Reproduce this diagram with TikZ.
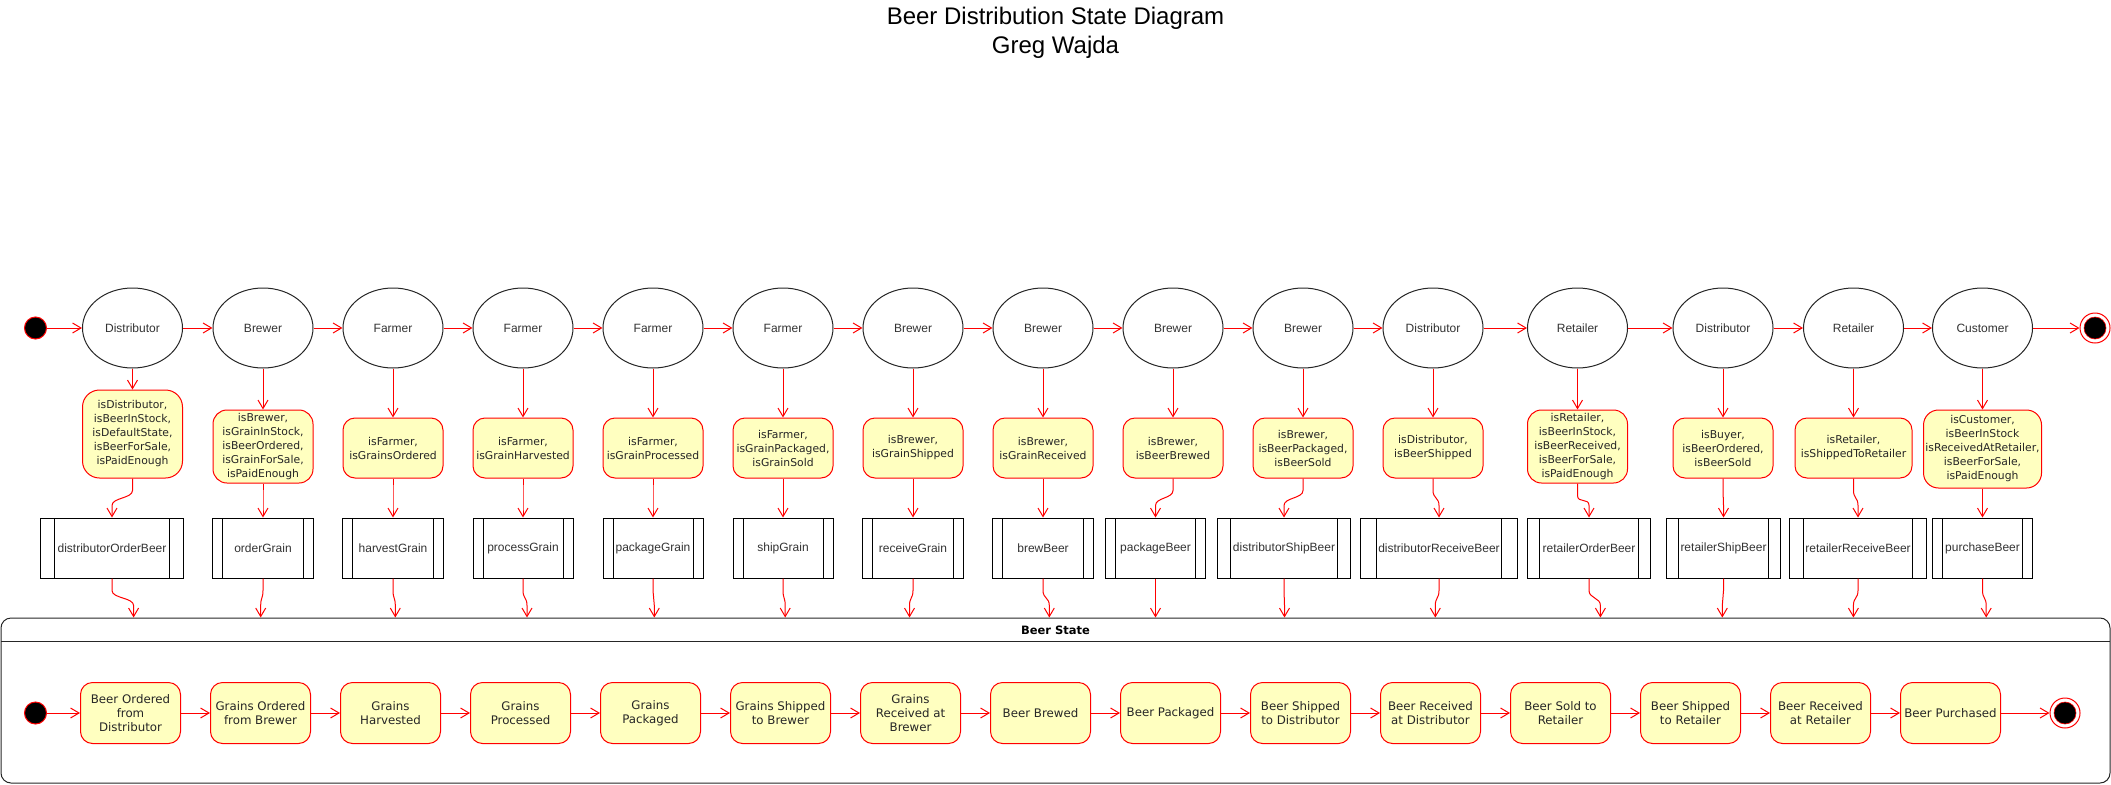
\documentclass[tikz,border=0pt]{standalone}
\usepackage{fontspec}
\setmainfont{Liberation Sans}
\newfontfamily\dvs{DejaVu Sans}
\usetikzlibrary{arrows.meta,shapes.geometric,calc}
\definecolor{condfill}{HTML}{FFFFC0}
\newcommand\sjog[2]{\draw[flow] (#1) -- ++(0,12) .. controls +(0,8) and +(0,-8) .. ($(#2)+(0,-12)$) -- (#2);}
\begin{document}
\begin{tikzpicture}[x=1pt,y=-1pt,
  flow/.style={draw=red, line width=1pt, -{Straight Barb[length=8.5pt,width=10pt]}},
  actor/.style={ellipse, draw=black!85, line width=1pt, fill=white, minimum width=100pt, minimum height=80pt, inner sep=0pt, font=\fontsize{12}{14}\selectfont, text=black!80},
  cond/.style={rectangle, rounded corners=12pt, draw=red, line width=1pt, fill=condfill, minimum width=100pt, minimum height=60pt, inner sep=0pt, align=center, font=\dvs\fontsize{10.8}{14}\selectfont, text=black!85},
  proc/.style={rectangle, draw=black, line width=1pt, minimum height=60pt, inner sep=0pt, font=\fontsize{12}{14}\selectfont, text=black!80,
    path picture={\draw[black, line width=1pt]
      ($(path picture bounding box.north west)!0.1!(path picture bounding box.north east)$) -- ($(path picture bounding box.south west)!0.1!(path picture bounding box.south east)$)
      ($(path picture bounding box.north east)!0.1!(path picture bounding box.north west)$) -- ($(path picture bounding box.south east)!0.1!(path picture bounding box.south west)$);}},
  stbox/.style={cond, minimum height=61pt, font=\dvs\fontsize{11.8}{14}\selectfont},
  startdot/.style={circle, fill=black, draw=red, line width=1pt, minimum size=22pt, inner sep=0pt},
  enddot/.style={circle, draw=red, line width=1pt, fill=white, minimum size=30pt, inner sep=0pt},
  titletext/.style={font=\fontsize{24}{29}\selectfont, text=black, inner sep=0pt}
]
\useasboundingbox (0,0) rectangle (2111,784);

% title
\node[titletext] (title) at (1055.5,18) {Beer Distribution State Diagram};
\node[titletext] (author) at (1055.5,47) {Greg Wajda};

% container
\node[draw=black!85, line width=1pt, rounded corners=10pt, minimum width=2109pt, minimum height=165pt, inner sep=0pt] (bs) at (1055.5,700.5) {};
\draw[black!85, line width=1pt] (1,641) -- (2110,641);
\node[font=\dvs\bfseries\fontsize{11.5}{14}\selectfont, inner sep=0pt] (bslabel) at (1055.5,630) {Beer State};

% top row
\node[startdot] (s1) at (35.5,328) {};
\node[actor] (e1) at (132.5,328) {Distributor};
\node[actor] (e2) at (263,328) {Brewer};
\node[actor] (e3) at (393,328) {Farmer};
\node[actor] (e4) at (523,328) {Farmer};
\node[actor] (e5) at (653,328) {Farmer};
\node[actor] (e6) at (783,328) {Farmer};
\node[actor] (e7) at (913,328) {Brewer};
\node[actor] (e8) at (1043,328) {Brewer};
\node[actor] (e9) at (1173,328) {Brewer};
\node[actor] (e10) at (1303,328) {Brewer};
\node[actor] (e11) at (1433,328) {Distributor};
\node[actor] (e12) at (1577.5,328) {Retailer};
\node[actor] (e13) at (1723,328) {Distributor};
\node[actor] (e14) at (1853.5,328) {Retailer};
\node[actor] (e15) at (1982.5,328) {Customer};
\node[enddot] (f1) at (2095,328) {};
\fill[black, draw=red, line width=0.6pt] (f1.center) circle (11pt);

% conditions
\node[cond, minimum height=88pt, rounded corners=17pt] (c1) at (132.5,434) {isDistributor,\\isBeerInStock,\\isDefaultState,\\isBeerForSale,\\isPaidEnough};
\node[cond, minimum height=73pt, rounded corners=14pt] (c2) at (263,446.5) {isBrewer,\\isGrainInStock,\\isBeerOrdered,\\isGrainForSale,\\isPaidEnough};
\node[cond] (c3) at (393,448) {isFarmer,\\isGrainsOrdered};
\node[cond] (c4) at (523,448) {isFarmer,\\isGrainHarvested};
\node[cond] (c5) at (653,448) {isFarmer,\\isGrainProcessed};
\node[cond] (c6) at (783,448) {isFarmer,\\isGrainPackaged,\\isGrainSold};
\node[cond] (c7) at (913,448) {isBrewer,\\isGrainShipped};
\node[cond] (c8) at (1043,448) {isBrewer,\\isGrainReceived};
\node[cond] (c9) at (1173,448) {isBrewer,\\isBeerBrewed};
\node[cond] (c10) at (1303,448) {isBrewer,\\isBeerPackaged,\\isBeerSold};
\node[cond] (c11) at (1433,448) {isDistributor,\\isBeerShipped};
\node[cond, minimum height=73pt, rounded corners=14pt] (c12) at (1577.5,446.5) {isRetailer,\\isBeerInStock,\\isBeerReceived,\\isBeerForSale,\\isPaidEnough};
\node[cond] (c13) at (1723,448) {isBuyer,\\isBeerOrdered,\\isBeerSold};
\node[cond, minimum width=117pt] (c14) at (1853.5,448) {isRetailer,\\isShippedToRetailer};
\node[cond, minimum width=118pt, minimum height=78pt, rounded corners=15pt] (c15) at (1982.5,449) {isCustomer,\\isBeerInStock\\isReceivedAtRetailer,\\isBeerForSale,\\isPaidEnough};

% processes
\node[proc, minimum width=143pt] (p1) at (112,548) {distributorOrderBeer};
\node[proc, minimum width=100.6pt] (p2) at (263,548) {orderGrain};
\node[proc, minimum width=100.6pt] (p3) at (393,548) {harvestGrain};
\node[proc, minimum width=100pt] (p4) at (523,548) {processGrain};
\node[proc, minimum width=100pt] (p5) at (653,548) {packageGrain};
\node[proc, minimum width=100pt] (p6) at (783,548) {shipGrain};
\node[proc, minimum width=100.6pt] (p7) at (913,548) {receiveGrain};
\node[proc, minimum width=101pt] (p8) at (1043,548) {brewBeer};
\node[proc, minimum width=100pt] (p9) at (1155.5,548) {packageBeer};
\node[proc, minimum width=133pt] (p10) at (1284,548) {distributorShipBeer};
\node[proc, minimum width=157pt] (p11) at (1439,548) {distributorReceiveBeer};
\node[proc, minimum width=123pt] (p12) at (1589,548) {retailerOrderBeer};
\node[proc, minimum width=113.5pt] (p13) at (1723.5,548) {retailerShipBeer};
\node[proc, minimum width=137pt] (p14) at (1858,548) {retailerReceiveBeer};
\node[proc, minimum width=100pt] (p15) at (1982.5,548) {purchaseBeer};

% arrow targets on the Beer State container
\coordinate (t1) at (133.6,617.5);
\coordinate (t2) at (260.7,617.5);
\coordinate (t3) at (395.3,617.5);
\coordinate (t4) at (527,617.5);
\coordinate (t5) at (654.3,617.5);
\coordinate (t6) at (785.2,617.5);
\coordinate (t7) at (909.5,617.5);
\coordinate (t8) at (1049.3,617.5);
\coordinate (t9) at (1155.5,617.5);
\coordinate (t10) at (1284.5,617.5);
\coordinate (t11) at (1435.3,617.5);
\coordinate (t12) at (1600.4,617.5);
\coordinate (t13) at (1722.3,617.5);
\coordinate (t14) at (1853.4,617.5);
\coordinate (t15) at (1986.2,617.5);

% bottom row
\node[startdot] (s2) at (35.5,713) {};
\node[stbox] (b1) at (130.5,713) {Beer Ordered\\from\\Distributor};
\node[stbox] (b2) at (260.5,713) {Grains Ordered\\from Brewer};
\node[stbox] (b3) at (390.5,713) {Grains\\Harvested};
\node[stbox] (b4) at (520.5,713) {Grains\\Processed};
\node[stbox] (b5) at (650.5,713) {Grains\\Packaged};
\node[stbox] (b6) at (780.5,713) {Grains Shipped\\to Brewer};
\node[stbox] (b7) at (910.5,713) {Grains\\Received at\\Brewer};
\node[stbox] (b8) at (1040.5,713) {Beer Brewed};
\node[stbox] (b9) at (1170.5,713) {Beer Packaged};
\node[stbox] (b10) at (1300.5,713) {Beer Shipped\\to Distributor};
\node[stbox] (b11) at (1430.5,713) {Beer Received\\at Distributor};
\node[stbox] (b12) at (1560.5,713) {Beer Sold to\\Retailer};
\node[stbox] (b13) at (1690.5,713) {Beer Shipped\\to Retailer};
\node[stbox] (b14) at (1820.5,713) {Beer Received\\at Retailer};
\node[stbox] (b15) at (1950.5,713) {Beer Purchased};
\node[enddot] (f2) at (2065,713) {};
\fill[black, draw=red, line width=0.6pt] (f2.center) circle (11pt);

% connectors
\draw[flow] (s1) -- (e1);
\draw[flow] (e15) -- (f1);
\draw[flow] (s2) -- (b1);
\draw[flow] (b15) -- (f2);
\foreach \i in {1,...,14}{
  \pgfmathtruncatemacro\j{\i+1}
  \draw[flow] (e\i) -- (e\j);
  \draw[flow] (b\i) -- (b\j);
}
\foreach \i in {1,...,15}{
  \draw[flow] (e\i) -- (c\i);
  \sjog{c\i.south}{p\i.north}
  \sjog{p\i.south}{t\i}
}
\end{tikzpicture}
\end{document}
